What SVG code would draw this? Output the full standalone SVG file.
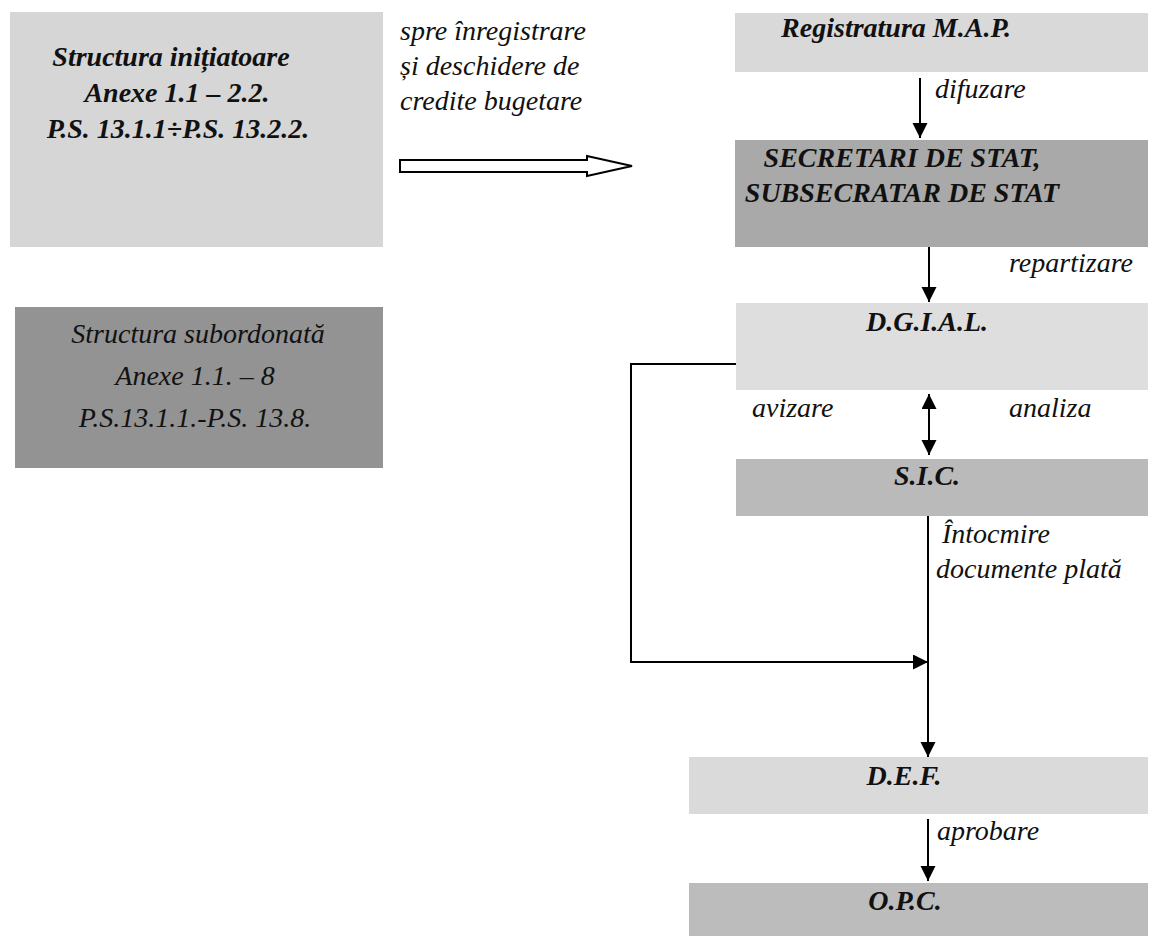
<svg xmlns="http://www.w3.org/2000/svg" width="1156" height="936" viewBox="0 0 1156 936">
<style>
text{font-family:"Liberation Serif","Times New Roman",serif;font-style:italic;fill:#111;}
.t{font-weight:bold;font-size:28px;}
.l{font-size:28px;}
.c{stroke:#000;stroke-width:2;fill:none;}
</style>
<defs>
<marker id="ah" markerUnits="userSpaceOnUse" markerWidth="16" markerHeight="16" refX="15" refY="7.5" orient="auto-start-reverse">
<path d="M0,0 L15,7.5 L0,15 z" fill="#000"/>
</marker>
</defs>
<rect width="1156" height="936" fill="#fff"/>

<g id="structura-initiatoare">
<rect x="10" y="12" width="373" height="235" fill="#d6d6d6"/>
<text class="t" x="171" y="66" text-anchor="middle" font-size="30.5">Structura inițiatoare</text>
<text class="t" x="177" y="102" text-anchor="middle" font-size="30.5">Anexe 1.1 – 2.2.</text>
<text class="t" x="178" y="138" text-anchor="middle" font-size="30.5">P.S. 13.1.1÷P.S. 13.2.2.</text>
</g>

<g id="structura-subordonata">
<rect x="15" y="307" width="368" height="161" fill="#939393"/>
<text class="l" x="198" y="343" text-anchor="middle" font-size="28.5">Structura subordonată</text>
<text class="l" x="195" y="385" text-anchor="middle" font-size="28.5">Anexe 1.1. – 8</text>
<text class="l" x="195" y="427" text-anchor="middle" font-size="28.5">P.S.13.1.1.-P.S. 13.8.</text>
</g>

<g id="registratura">
<rect x="735" y="13" width="413" height="59" fill="#d9d9d9"/>
<text class="t" x="896" y="37" text-anchor="middle">Registratura M.A.P.</text>
</g>

<g id="secretari">
<rect x="735" y="140" width="413" height="107" fill="#a9a9a9"/>
<text class="t" x="902" y="167" text-anchor="middle">SECRETARI DE STAT,</text>
<text class="t" x="902" y="202" text-anchor="middle">SUBSECRATAR DE STAT</text>
</g>

<g id="dgial">
<rect x="736" y="303" width="412" height="87" fill="#dedede"/>
<text class="t" x="927" y="331" text-anchor="middle">D.G.I.A.L.</text>
</g>

<g id="sic">
<rect x="736" y="459" width="412" height="57" fill="#bababa"/>
<text class="t" x="927" y="485" text-anchor="middle">S.I.C.</text>
</g>

<g id="def">
<rect x="689" y="757" width="459" height="57" fill="#dadada"/>
<text class="t" x="904" y="785" text-anchor="middle">D.E.F.</text>
</g>

<g id="opc">
<rect x="689" y="883" width="459" height="53" fill="#bcbcbc"/>
<text class="t" x="905" y="910" text-anchor="middle">O.P.C.</text>
</g>

<g id="connectors">
<polygon points="400,160 587,160 587,156 632,166 587,176 587,172 400,172" fill="#fff" stroke="#000" stroke-width="2"/>
<line class="c" x1="920" y1="78" x2="920" y2="138" marker-end="url(#ah)"/>
<line class="c" x1="929" y1="247" x2="929" y2="302" marker-end="url(#ah)"/>
<line class="c" x1="929" y1="394" x2="929" y2="455" marker-start="url(#ah)" marker-end="url(#ah)"/>
<polyline class="c" points="736,364 631,364 631,662 928,662" marker-end="url(#ah)"/>
<line class="c" x1="928" y1="516" x2="928" y2="757" marker-end="url(#ah)"/>
<line class="c" x1="928" y1="819" x2="928" y2="881" marker-end="url(#ah)"/>
</g>

<g id="labels">
<text class="l" x="400" y="40">spre înregistrare</text>
<text class="l" x="400" y="75">și deschidere de</text>
<text class="l" x="400" y="110">credite bugetare</text>
<text class="l" x="935" y="98">difuzare</text>
<text class="l" x="1009" y="272">repartizare</text>
<text class="l" x="752" y="417">avizare</text>
<text class="l" x="1009" y="417">analiza</text>
<text class="l" x="942" y="543">Întocmire</text>
<text class="l" x="936" y="578">documente plată</text>
<text class="l" x="937" y="840">aprobare</text>
</g>
</svg>
